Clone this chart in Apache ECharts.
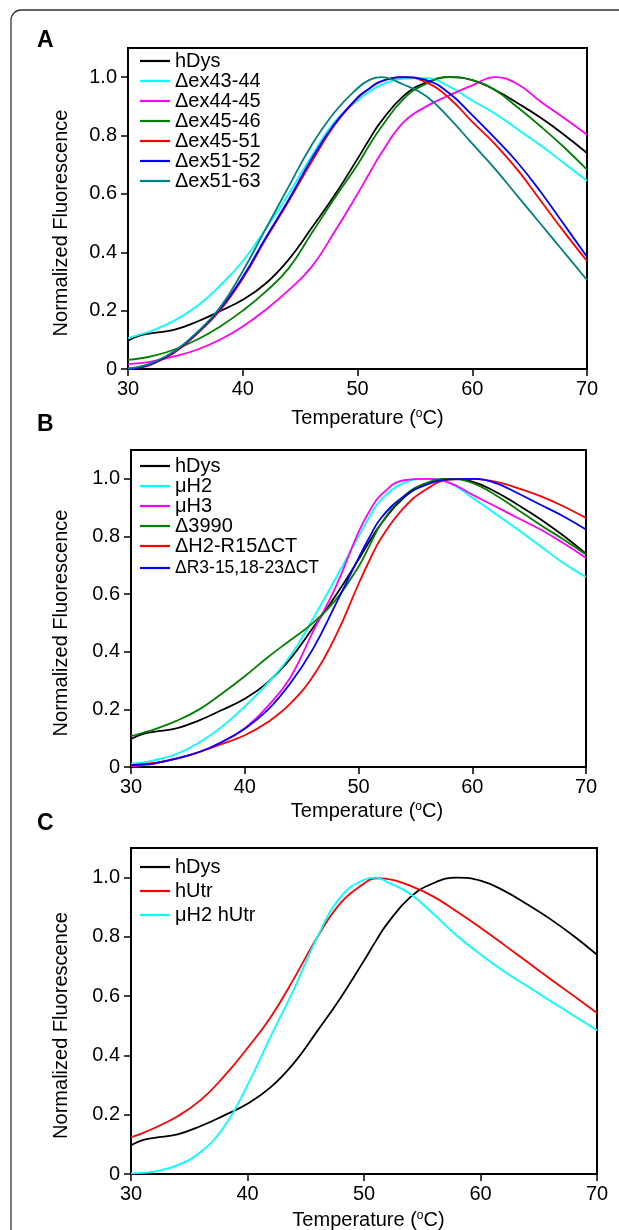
<!DOCTYPE html>
<html><head><meta charset="utf-8">
<script src="https://cdn.jsdelivr.net/npm/echarts@6.0.0/dist/echarts.min.js"></script>
<style>html,body{margin:0;padding:0;background:#fff}#c{width:619px;height:1230px}</style>
</head><body><div id="c"></div>
<script>
// ---- data ----
const temps = [30, 31, 32, 34, 36, 38, 40, 42, 44, 46, 48, 50, 51, 52, 54, 56, 58, 60, 62, 64, 66, 68, 70];
const xTicks = [30, 40, 50, 60, 70];
const yTicks = [0, 0.2, 0.4, 0.6, 0.8, 1.0];

const hDys      = [0.097, 0.114, 0.122, 0.134, 0.162, 0.198, 0.237, 0.293, 0.375, 0.483, 0.595, 0.72, 0.785, 0.845, 0.935, 0.982, 1.0, 0.99, 0.956, 0.91, 0.86, 0.803, 0.74];

// panel A
const dEx43_44  = [0.106, 0.118, 0.13, 0.165, 0.215, 0.285, 0.37, 0.48, 0.60, 0.73, 0.847, 0.92, 0.95, 0.973, 0.995, 0.997, 0.968, 0.92, 0.875, 0.82, 0.765, 0.705, 0.645];
const dEx44_45  = [0.017, 0.02, 0.025, 0.043, 0.066, 0.10, 0.146, 0.203, 0.27, 0.35, 0.47, 0.60, 0.668, 0.735, 0.845, 0.90, 0.938, 0.972, 1.0, 0.975, 0.915, 0.86, 0.803];
const dEx45_46  = [0.031, 0.036, 0.043, 0.066, 0.10, 0.145, 0.2, 0.265, 0.345, 0.465, 0.585, 0.70, 0.765, 0.825, 0.925, 0.978, 1.0, 0.99, 0.955, 0.895, 0.83, 0.76, 0.683];
const dEx45_51  = [0.0, 0.005, 0.015, 0.055, 0.12, 0.2, 0.31, 0.445, 0.575, 0.71, 0.836, 0.928, 0.96, 0.985, 1.0, 0.982, 0.928, 0.847, 0.77, 0.68, 0.575, 0.47, 0.37];
const dEx51_52  = [0.0, 0.005, 0.017, 0.058, 0.123, 0.205, 0.315, 0.45, 0.58, 0.72, 0.84, 0.93, 0.96, 0.985, 1.0, 0.99, 0.945, 0.87, 0.79, 0.705, 0.605, 0.495, 0.385];
const dEx51_63  = [0.002, 0.008, 0.02, 0.06, 0.125, 0.21, 0.335, 0.48, 0.625, 0.767, 0.88, 0.962, 0.99, 1.0, 0.975, 0.935, 0.86, 0.772, 0.685, 0.59, 0.495, 0.40, 0.305];

// panel B
const muH2      = [0.012, 0.016, 0.023, 0.045, 0.085, 0.14, 0.21, 0.29, 0.385, 0.515, 0.655, 0.80, 0.87, 0.928, 0.986, 1.0, 0.986, 0.934, 0.88, 0.824, 0.766, 0.708, 0.659];
const muH3      = [0.003, 0.006, 0.012, 0.03, 0.052, 0.087, 0.135, 0.21, 0.31, 0.47, 0.625, 0.815, 0.89, 0.945, 0.995, 1.0, 0.986, 0.945, 0.905, 0.864, 0.824, 0.777, 0.725];
const d3990     = [0.107, 0.118, 0.13, 0.16, 0.2, 0.255, 0.315, 0.38, 0.44, 0.50, 0.58, 0.695, 0.77, 0.845, 0.94, 0.986, 1.0, 0.986, 0.945, 0.893, 0.84, 0.79, 0.737];
const dH2R15CT  = [0.006, 0.01, 0.014, 0.029, 0.052, 0.08, 0.11, 0.155, 0.22, 0.315, 0.455, 0.635, 0.72, 0.795, 0.9, 0.965, 0.997, 1.0, 0.99, 0.968, 0.94, 0.905, 0.864];
const dR3CT     = [0.006, 0.009, 0.012, 0.029, 0.052, 0.087, 0.133, 0.197, 0.29, 0.41, 0.565, 0.725, 0.80, 0.865, 0.94, 0.98, 0.998, 1.0, 0.986, 0.95, 0.91, 0.87, 0.824];

// panel C
const hUtr      = [0.124, 0.138, 0.155, 0.195, 0.25, 0.33, 0.425, 0.53, 0.66, 0.80, 0.915, 0.98, 0.998, 0.996, 0.972, 0.935, 0.885, 0.831, 0.774, 0.716, 0.658, 0.601, 0.543];
const muH2hUtr  = [0.002, 0.004, 0.008, 0.03, 0.075, 0.16, 0.30, 0.465, 0.625, 0.80, 0.935, 0.993, 1.0, 0.985, 0.944, 0.876, 0.803, 0.741, 0.684, 0.634, 0.584, 0.534, 0.485];

const panelA = [['hDys', hDys, '#000000'], ['\u0394ex43-44', dEx43_44, '#00FFFF'], ['\u0394ex44-45', dEx44_45, '#FF00FF'],
  ['\u0394ex45-46', dEx45_46, '#008000'], ['\u0394ex45-51', dEx45_51, '#FF0000'], ['\u0394ex51-52', dEx51_52, '#0000FF'], ['\u0394ex51-63', dEx51_63, '#008080']];
const panelB = [['hDys', hDys, '#000000'], ['\u03bcH2', muH2, '#00FFFF'], ['\u03bcH3', muH3, '#FF00FF'],
  ['\u03943990', d3990, '#008000'], ['\u0394H2-R15\u0394CT', dH2R15CT, '#FF0000'], ['\u0394R3-15,18-23\u0394CT', dR3CT, '#0000FF']];
const panelC = [['hDys', hDys, '#000000'], ['hUtr', hUtr, '#FF0000'], ['\u03bcH2 hUtr', muH2hUtr, '#00FFFF']];

// ---- chart ----
const FONT = '"Liberation Sans", Arial, Helvetica, sans-serif';
const grids = [
  {left: 128, top: 48, width: 459, height: 321},
  {left: 131, top: 450, width: 455, height: 317},
  {left: 131, top: 848, width: 466, height: 326}
].map(g => Object.assign(g, {show: true, borderColor: '#000', borderWidth: 2, backgroundColor: 'transparent', outerBoundsMode: 'none'}));

function mkX(gi, gap, padL) {
  return {
    gridIndex: gi, type: 'value', min: 30, max: 70, interval: 10,
    name: 'Temperature ({sup|o}C)', nameLocation: 'middle', nameGap: gap,
    nameTextStyle: {fontSize: 20, color: '#000', fontFamily: FONT, padding: [0, 0, 0, padL],
      rich: {sup: {fontSize: 12, verticalAlign: 'top', color: '#000', fontFamily: FONT}}},
    axisLine: {onZero: false, lineStyle: {color: '#000', width: 2}},
    axisTick: {length: 7, lineStyle: {color: '#000', width: 1.5}, customValues: xTicks},
    axisLabel: {fontSize: 20, color: '#000', margin: 10, fontFamily: FONT, customValues: xTicks},
    splitLine: {show: false}
  };
}
function mkY(gi, gap, padR) {
  return {
    gridIndex: gi, type: 'value', min: 0, max: 1.1,
    name: 'Normalized Fluorescence', nameLocation: 'middle', nameGap: gap, nameRotate: 90,
    nameTextStyle: {fontSize: 20, color: '#000', fontFamily: FONT, padding: [0, padR, 0, 0]},
    axisLine: {lineStyle: {color: '#000', width: 2}},
    axisTick: {length: 7, lineStyle: {color: '#000', width: 1.5}, customValues: yTicks},
    axisLabel: {fontSize: 20, color: '#000', margin: 11, fontFamily: FONT, customValues: yTicks,
      formatter: v => (v === 0 ? '0' : v.toFixed(1))},
    splitLine: {show: false}
  };
}
function mkSeries(panel, gi) {
  return panel.map(([name, vals, color]) => ({
    name, type: 'line', xAxisIndex: gi, yAxisIndex: gi,
    data: temps.map((t, i) => [t, vals[i]]),
    smooth: 0.45, symbol: 'none', showSymbol: false,
    lineStyle: {color, width: 1.8}, itemStyle: {color}, z: 3
  }));
}
function mkLegend(panel, top, gap, smallLast) {
  return {
    orient: 'vertical', left: 140, top, padding: 0, icon: 'rect', itemWidth: 30, itemHeight: 2.2, itemGap: gap,
    textStyle: {fontSize: 20, lineHeight: 20, color: '#000', fontFamily: FONT},
    data: panel.map(([name], i) => (smallLast && i === panel.length - 1)
      ? {name, textStyle: {fontSize: 17.5, lineHeight: 24}} : {name})
  };
}

const chart = echarts.init(document.getElementById('c'), null, {renderer: 'canvas'});
chart.setOption({
  animation: false,
  backgroundColor: '#fff',
  grid: grids,
  xAxis: [mkX(0, 39, 20), mkX(1, 34, 17), mkX(2, 36, 9)],
  yAxis: [mkY(0, 57, 29), mkY(1, 60, 29), mkY(2, 60, 29)],
  legend: [mkLegend(panelA, 51, 0, false), mkLegend(panelB, 456, 0, true), mkLegend(panelC, 857, 4, false)],
  series: [...mkSeries(panelA, 0), ...mkSeries(panelB, 1), ...mkSeries(panelC, 2)],
  graphic: [
    {type: 'rect', silent: true, z: -10, shape: {x: 11, y: 10, width: 800, height: 1400, r: 10},
      style: {fill: 'none', stroke: '#333', lineWidth: 1.3}},
    {type: 'text', x: 37, y: 41, style: {text: 'A', font: 'bold 23px "Liberation Sans", Arial', fill: '#000', verticalAlign: 'middle'}},
    {type: 'text', x: 37, y: 425, style: {text: 'B', font: 'bold 23px "Liberation Sans", Arial', fill: '#000', verticalAlign: 'middle'}},
    {type: 'text', x: 37, y: 824, style: {text: 'C', font: 'bold 23px "Liberation Sans", Arial', fill: '#000', verticalAlign: 'middle'}}
  ]
});
</script>
</body></html>
